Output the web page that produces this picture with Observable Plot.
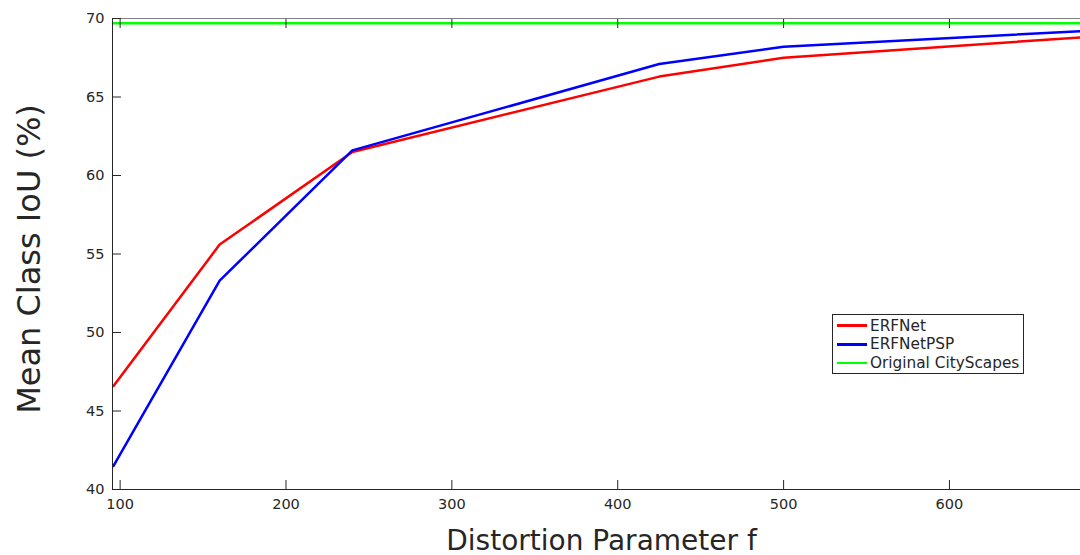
<!DOCTYPE html>
<html>
<head>
<meta charset="utf-8">
<script src="https://cdn.jsdelivr.net/npm/d3@7"></script>
<script src="https://cdn.jsdelivr.net/npm/@observablehq/plot@0.6"></script>
<style>
  html, body { margin: 0; padding: 0; background: #fff; }
  #wrap { position: relative; width: 1080px; height: 555px; overflow: hidden; font-family: "DejaVu Sans", sans-serif; }
  #legend { position: absolute; left: 832px; top: 314px; width: 190px; height: 58px; border: 1px solid #262626; background: #fff; box-sizing: content-box; }
  .row { position: absolute; left: 0; height: 19px; display: flex; align-items: center; font-size: 15.3px; color: #262626; }
  .sw { width: 30px; height: 2.5px; margin-left: 4px; margin-right: 3px; }
</style>
</head>
<body>
<div id="wrap"></div>
<script>
// ---- data ----
const fValues = [96, 160, 240, 425, 500, 680];
const erfnet = [46.6, 55.6, 61.5, 66.3, 67.5, 68.8];
const erfnetPSP = [41.5, 53.3, 61.6, 67.1, 68.2, 69.2];
const originalCityScapes = 69.7;
const seriesNames = ["ERFNet", "ERFNetPSP", "Original CityScapes"];
const seriesColors = ["#ff0000", "#0000ff", "#00ff00"];
const xTicks = [100, 200, 300, 400, 500, 600];
const yTicks = [40, 45, 50, 55, 60, 65, 70];
const xDomain = [95.4, 679];
const yDomain = [40, 70];
const xLabel = "Distortion Parameter f";
const yLabel = "Mean Class IoU (%)";

const rows = [];
fValues.forEach((f, i) => {
  rows.push({series: seriesNames[0], f, v: erfnet[i]});
  rows.push({series: seriesNames[1], f, v: erfnetPSP[i]});
});

const axisColor = "#262626";
const font = "DejaVu Sans";

const chart = Plot.plot({
  width: 1080,
  height: 555,
  marginLeft: 112,
  marginRight: 0,
  marginTop: 18,
  marginBottom: 66,
  style: {fontFamily: font, background: "#fff"},
  x: {domain: xDomain},
  y: {domain: yDomain},
  color: {domain: seriesNames, range: seriesColors},
  marks: [
    Plot.ruleY([yDomain[1]], {stroke: "#808080", strokeWidth: 1}),
    Plot.ruleY([originalCityScapes], {stroke: seriesColors[2], strokeWidth: 2.6}),
    Plot.line(rows, {x: "f", y: "v", z: "series", stroke: "series", strokeWidth: 2.5, clip: true}),
    Plot.ruleY([yDomain[0]], {stroke: axisColor, strokeWidth: 1}),
    Plot.ruleX([xDomain[0]], {stroke: axisColor, strokeWidth: 1}),
    // inward ticks
    Plot.axisX(xTicks, {anchor: "bottom", tickSize: 9, dy: -9, tickFormat: () => "", label: null, stroke: axisColor}),
    Plot.axisX(xTicks, {anchor: "top", tickSize: 9, dy: 9, tickFormat: () => "", label: null, stroke: axisColor}),
    Plot.axisY(yTicks, {anchor: "left", tickSize: 9, dx: 9, tickFormat: () => "", label: null, stroke: axisColor}),
    // tick labels
    Plot.axisX(xTicks, {anchor: "bottom", tickSize: 0, tickPadding: 9, label: null, fontSize: 14.5, fill: axisColor, tickFormat: d => String(d)}),
    Plot.axisY(yTicks, {anchor: "left", tickSize: 0, tickPadding: 8, label: null, fontSize: 14.5, fill: axisColor, tickFormat: d => String(d)}),
    // axis titles
    Plot.text([xLabel], {frameAnchor: "bottom", lineAnchor: "middle", textAnchor: "middle", dy: 52, dx: 5, fontSize: 28, fill: axisColor}),
    Plot.text([yLabel], {frameAnchor: "left", lineAnchor: "middle", textAnchor: "middle", rotate: -90, dx: -83, dy: 5, fontSize: 32, fill: axisColor})
  ]
});

const wrap = document.getElementById("wrap");
wrap.appendChild(chart);

// legend
const legend = document.createElement("div");
legend.id = "legend";
seriesNames.forEach((name, i) => {
  const row = document.createElement("div");
  row.className = "row";
  row.style.top = (1 + i * 18.8) + "px";
  const sw = document.createElement("div");
  sw.className = "sw";
  sw.style.background = seriesColors[i];
  const t = document.createElement("span");
  t.textContent = name;
  row.appendChild(sw);
  row.appendChild(t);
  legend.appendChild(row);
});
wrap.appendChild(legend);
</script>
</body>
</html>
